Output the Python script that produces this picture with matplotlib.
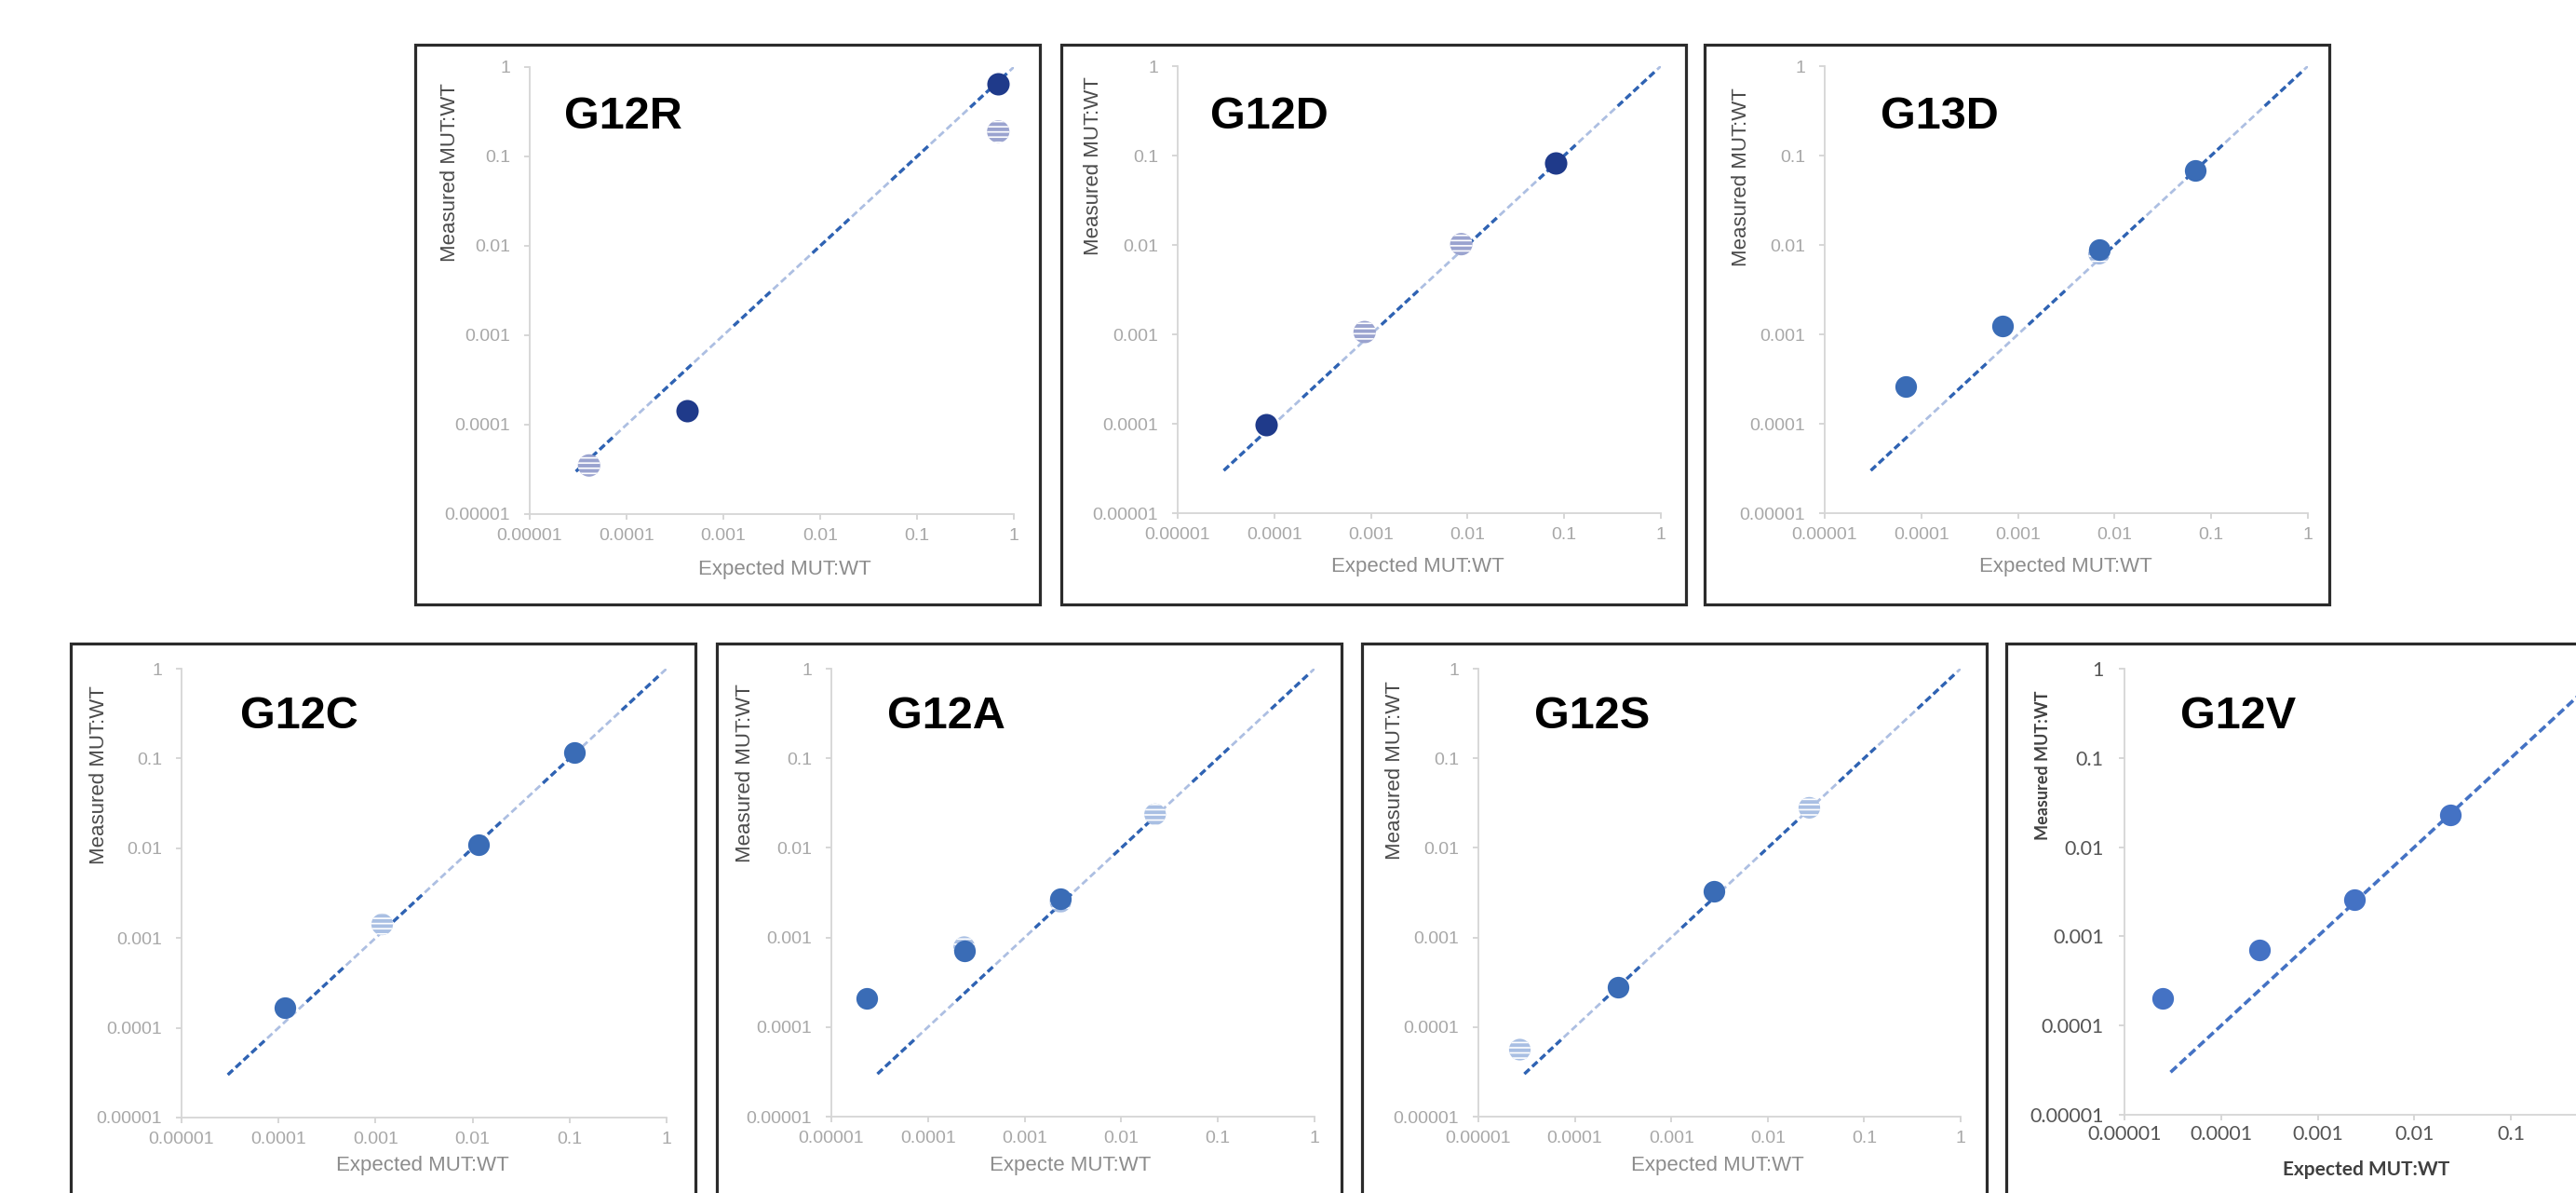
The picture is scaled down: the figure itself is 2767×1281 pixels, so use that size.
import matplotlib
matplotlib.use("Agg")
import matplotlib.pyplot as plt
from matplotlib.patches import Rectangle
from matplotlib.ticker import FixedLocator, FixedFormatter, NullLocator

# ---------------- data ----------------
panel_names = ["G12R", "G12D", "G13D", "G12C", "G12A", "G12S", "G12V"]

tick_values = [1e-5, 1e-4, 1e-3, 1e-2, 1e-1, 1]
tick_labels = ["0.00001", "0.0001", "0.001", "0.01", "0.1", "1"]

fit_x = [3e-5, 1.0]
fit_y = [3e-5, 1.0]

g12r_dark_x = [4.2e-4, 0.69]
g12r_dark_y = [1.42e-4, 0.65]
g12r_light_x = [4.1e-5, 0.69]
g12r_light_y = [3.5e-5, 0.19]

g12d_dark_x = [8.3e-5, 0.082]
g12d_dark_y = [9.7e-5, 0.082]
g12d_light_x = [8.6e-4, 8.6e-3]
g12d_light_y = [1.06e-3, 0.0102]

g13d_dark_x = [6.9e-5, 6.9e-4, 6.9e-3, 0.069]
g13d_dark_y = [2.6e-4, 1.25e-3, 8.97e-3, 0.068]
g13d_light_x = [6.9e-3]
g13d_light_y = [8.0e-3]

g12c_dark_x = [1.17e-4, 0.0116, 0.111]
g12c_dark_y = [1.67e-4, 0.011, 0.116]
g12c_light_x = [1.17e-3]
g12c_light_y = [1.42e-3]

g12a_dark_x = [2.32e-5, 2.37e-4, 2.35e-3]
g12a_dark_y = [2.08e-4, 7.1e-4, 2.73e-3]
g12a_light_x = [2.37e-4, 2.35e-3, 0.0224]
g12a_light_y = [7.8e-4, 2.5e-3, 0.0237]

g12s_dark_x = [2.81e-4, 2.77e-3]
g12s_dark_y = [2.79e-4, 3.28e-3]
g12s_light_x = [2.69e-5, 0.027]
g12s_light_y = [5.6e-5, 0.028]

g12v_dark_x = [2.46e-5, 2.51e-4, 2.42e-3, 0.0233]
g12v_dark_y = [2.02e-4, 6.97e-4, 2.6e-3, 0.0232]
g12v_light_x = []
g12v_light_y = []

x_label_text = ["Expected MUT:WT"] * 4 + ["Expecte MUT:WT", "Expected MUT:WT", "Expected MUT:WT"]
y_label_text = "Measured MUT:WT"

series = [
    (g12r_dark_x, g12r_dark_y, g12r_light_x, g12r_light_y),
    (g12d_dark_x, g12d_dark_y, g12d_light_x, g12d_light_y),
    (g13d_dark_x, g13d_dark_y, g13d_light_x, g13d_light_y),
    (g12c_dark_x, g12c_dark_y, g12c_light_x, g12c_light_y),
    (g12a_dark_x, g12a_dark_y, g12a_light_x, g12a_light_y),
    (g12s_dark_x, g12s_dark_y, g12s_light_x, g12s_light_y),
    (g12v_dark_x, g12v_dark_y, g12v_light_x, g12v_light_y),
]

# ---------------- layout (pixels in the 2767x1281 canvas) ----------------
W, H = 2767, 1281
BOX_W, BOX_H = 671, 601
box_pos = [(446, 48), (1140, 48), (1831, 48), (76, 691), (770, 691), (1463, 691), (2155, 691)]
axes_pos = [(569, 72, 1089, 552), (1265, 71, 1784, 551), (1960, 71, 2479, 551),
            (195, 718, 716, 1200), (893, 718, 1412, 1199), (1588, 718, 2106, 1199),
            (2282, 718, 2801, 1197)]
title_pos = [(606, 138), (1300, 138), (2020, 138), (258, 782), (953, 782), (1648, 782), (2342, 782)]
ylab_pos = [(483, 185), (1174, 178), (1870, 190), (107, 832), (801, 830), (1498, 827), (2194, 822)]
xlab_pos = [(843, 612), (1523, 608), (2219, 608), (454, 1252), (1150, 1252), (1845, 1252), (2542, 1256)]

dark_colors = ["#1f3a8a", "#1f3a8a", "#3a6cb6", "#3a6cb6", "#3a6cb6", "#3a6cb6", "#4472c4"]
light_colors = ["#9aa3cf", "#9aa3cf", "#9fb6de", "#a9bfe3", "#a9bfe3", "#a9bfe3", "#a9bfe3"]

plt.rcParams["lines.scale_dashes"] = False
plt.rcParams["hatch.linewidth"] = 1.2
plt.rcParams["font.family"] = ["Liberation Sans", "DejaVu Sans"]


def fx(x):
    return x / W


def fy(y):
    return 1 - y / H


fig = plt.figure(figsize=(W / 100, H / 100), dpi=100)
fig.patch.set_facecolor("white")

for i, name in enumerate(panel_names):
    bx, by = box_pos[i]
    fig.add_artist(Rectangle((fx(bx), fy(by + BOX_H)), BOX_W / W, BOX_H / H,
                             transform=fig.transFigure, facecolor="white",
                             edgecolor="#2b2b2b", linewidth=2.3, zorder=0))

    l, t, r, b = axes_pos[i]
    ax = fig.add_axes([fx(l), fy(b), (r - l) / W, (b - t) / H])
    ax.set_facecolor("none")
    ax.set_xscale("log")
    ax.set_yscale("log")
    ax.set_xlim(1e-5, 1)
    ax.set_ylim(1e-5, 1)
    for s in ["top", "right"]:
        ax.spines[s].set_visible(False)
    for s in ["left", "bottom"]:
        ax.spines[s].set_color("#d6d6d6")
        ax.spines[s].set_linewidth(1.3)

    last = (i == 6)
    xlabels = list(tick_labels)
    if last:
        xlabels[-1] = ""  # the "1" falls outside the cropped picture
    ax.xaxis.set_major_locator(FixedLocator(tick_values))
    ax.xaxis.set_major_formatter(FixedFormatter(xlabels))
    ax.yaxis.set_major_locator(FixedLocator(tick_values))
    ax.yaxis.set_major_formatter(FixedFormatter(tick_labels))
    ax.xaxis.set_minor_locator(NullLocator())
    ax.yaxis.set_minor_locator(NullLocator())

    tcolor = "#555555" if last else "#a8a8a8"
    tfam = ["Lato", "DejaVu Sans"] if last else ["Liberation Sans", "DejaVu Sans"]
    ax.tick_params(axis="both", which="major", direction="out", length=4,
                   width=1.2, color="#d0d0d0", labelcolor=tcolor,
                   labelsize=15.5 if last else 14)
    ax.tick_params(axis="y", pad=12 if last else 11)
    ax.tick_params(axis="x", pad=4 if last else 7)
    for lab in ax.get_xticklabels() + ax.get_yticklabels():
        lab.set_family(tfam)

    dx, dy, lx, ly = series[i]
    if last:
        ax.plot(fit_x, fit_y, color="#4472c4", linewidth=2.6,
                dashes=(6.5, 3.2), zorder=2)
    else:
        ax.plot(fit_x, fit_y, color="#adbfe2", linewidth=2.0,
                dashes=(5.4, 2.9), zorder=2)
        ax.plot(fit_x, fit_y, color="#2f63b3", linewidth=2.4,
                dashes=(5.4, 2.9, 5.4, 2.9, 5.4, 2.9, 5.4, 2.9, 5.4, 2.9 + 41.5),
                zorder=2)

    msize = 300 if i < 2 else 280
    if len(lx):
        ax.scatter(lx, ly, s=msize, facecolor=light_colors[i], edgecolors="white",
                   linewidths=0, hatch="---", zorder=3, clip_on=False)
    if len(dx):
        ax.scatter(dx, dy, s=msize, color=dark_colors[i], linewidths=0,
                   zorder=4, clip_on=False)

    # panel title
    tx, ty = title_pos[i]
    fig.text(fx(tx), fy(ty), name, fontsize=35, fontweight="bold",
             color="black", ha="left", va="baseline",
             family=["Liberation Sans", "DejaVu Sans"])

    # axis labels
    yx, yy = ylab_pos[i]
    xx, xy = xlab_pos[i]
    if last:
        fig.text(fx(yx), fy(yy), y_label_text, rotation=90, fontsize=13,
                 fontweight="bold", color="#404040", ha="center", va="center",
                 family=["Lato", "DejaVu Sans"])
        fig.text(fx(xx), fy(xy), x_label_text[i], fontsize=15,
                 fontweight="bold", color="#404040", ha="center", va="center",
                 family=["Lato", "DejaVu Sans"])
    else:
        fig.text(fx(yx), fy(yy), y_label_text, rotation=90, fontsize=16,
                 color="#4a4a4a", ha="center", va="center",
                 family=["Liberation Sans", "DejaVu Sans"])
        fig.text(fx(xx), fy(xy), x_label_text[i], fontsize=16,
                 color="#8c8c8c", ha="center", va="center",
                 family=["Liberation Sans", "DejaVu Sans"])

fig.savefig("out.png", dpi=100, facecolor="white")
